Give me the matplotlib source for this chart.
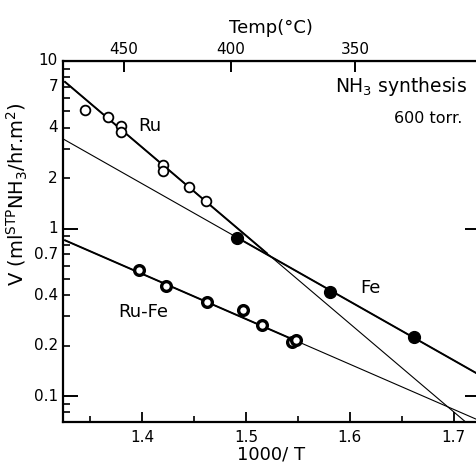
import numpy as np
import matplotlib
matplotlib.use('Agg')
import matplotlib.pyplot as plt
from matplotlib.ticker import LogLocator, FixedLocator, NullFormatter

plt.rcParams['font.family'] = 'DejaVu Sans'
plt.rcParams['mathtext.default'] = 'regular'

# data (x = 1000/T, y = V)
ru_x = [1.345, 1.367, 1.380, 1.380, 1.420, 1.420, 1.445, 1.462]
ru_v = [5.1, 4.64, 4.1, 3.78, 2.40, 2.21, 1.78, 1.45]

fe_x = [1.491, 1.581, 1.662]
fe_v = [0.88, 0.42, 0.224]

rufe_x = [1.397, 1.423, 1.463, 1.497, 1.515, 1.544, 1.548]
rufe_v = [0.562, 0.452, 0.363, 0.325, 0.265, 0.21, 0.215]

# fitted lines: end points and the range drawn thick
ru_fit_x = [1.326, 1.72]
ru_fit_v = [7.5, 0.063]
ru_thick = (1.326, 1.52)

fe_fit_x = [1.324, 1.73]
fe_fit_v = [3.43, 0.128]
fe_thick = (1.49, 1.73)

rufe_fit_x = [1.326, 1.73]
rufe_fit_v = [0.85, 0.069]
rufe_thick = (1.326, 1.55)

y_ticks = [0.1, 0.2, 0.4, 0.7, 1, 2, 4, 7, 10]
y_labels = ['0.1', '0.2', '0.4', '0.7', '1', '2', '4', '7', '10']
temp_ticks = [450, 400, 350]


def fit_line(xs, vs, x0, x1):
    slope = (np.log10(vs[1]) - np.log10(vs[0])) / (xs[1] - xs[0])
    xx = np.array([x0, x1])
    return xx, 10 ** (np.log10(vs[0]) + slope * (xx - xs[0]))


fig = plt.figure(figsize=(4.77, 4.62), dpi=100)
ax = fig.add_axes([0.132, 0.0866, 0.874, 0.7814])

for xs, vs, thick in [(ru_fit_x, ru_fit_v, ru_thick),
                      (fe_fit_x, fe_fit_v, fe_thick),
                      (rufe_fit_x, rufe_fit_v, rufe_thick)]:
    lx, lv = fit_line(xs, vs, xs[0], xs[1])
    ax.plot(lx, lv, color='black', lw=0.8)
    tx, tv = fit_line(xs, vs, thick[0], thick[1])
    ax.plot(tx, tv, color='black', lw=1.4)

ax.plot(ru_x, ru_v, 'o', ms=7, mfc='white', mec='black', mew=1.3)
ax.plot(fe_x, fe_v, 'o', ms=8.5, color='black')
ax.plot(rufe_x, rufe_v, 'o', ms=7, mfc='white', mec='black', mew=2.4)

ax.set_yscale('log')
ax.set_xlim(1.324, 1.725)
ax.set_ylim(0.07, 10)

ax.yaxis.set_major_locator(FixedLocator([0.1, 1, 10]))
ax.yaxis.set_major_formatter(NullFormatter())
ax.yaxis.set_minor_locator(LogLocator(base=10, subs=np.arange(2, 10)))
ax.yaxis.set_minor_formatter(NullFormatter())
for v, lab in zip(y_ticks, y_labels):
    ax.text(-0.012, v, lab, transform=ax.get_yaxis_transform(),
            ha='right', va='center', fontsize=11)

ax.set_xticks([1.4, 1.5, 1.6, 1.7])
ax.set_xticklabels(['1.4', '1.5', '1.6', '1.7'])
ax.set_xticks([1.35, 1.45, 1.55, 1.65], minor=True)

ax.tick_params(axis='y', which='major', direction='in', length=11, width=1.4,
               left=True, right=True)
ax.tick_params(axis='y', which='minor', direction='in', length=5, width=1.2,
               left=True, right=False)
ax.tick_params(axis='x', which='major', direction='in', length=7, width=1.3,
               labelsize=11, pad=6, top=False)
ax.tick_params(axis='x', which='minor', direction='in', length=4, width=1.2, top=False)

for s in ['left', 'bottom', 'top', 'right']:
    ax.spines[s].set_linewidth(1.6)

top = ax.secondary_xaxis('top', functions=(lambda x: 1000.0 / x - 273.15,
                                           lambda t: 1000.0 / (t + 273.15)))
top.set_xticks(temp_ticks)
top.set_xticklabels([str(t) for t in temp_ticks])
top.tick_params(direction='in', length=8, width=1.4, labelsize=11, pad=3)
top.set_xlabel('Temp(°C)', fontsize=13, labelpad=6)

ax.set_xlabel('1000/ T', fontsize=13, labelpad=0)
ax.set_ylabel(r'V (ml$^{STP}$NH$_3$/hr.m$^2$)', fontsize=14)
ax.yaxis.set_label_coords(-0.08, 0.63)

ax.text(1.408, 4.1, 'Ru', fontsize=13, ha='center', va='center')
ax.text(1.62, 0.444, 'Fe', fontsize=13, ha='center', va='center')
ax.text(1.401, 0.319, 'Ru-Fe', fontsize=13, ha='center', va='center')
ax.text(0.969, 0.928, r'NH$_3$ synthesis', transform=ax.transAxes,
        fontsize=13.5, ha='right', va='center')
ax.text(0.957, 0.842, '600 torr.', transform=ax.transAxes,
        fontsize=11.5, ha='right', va='center')

fig.savefig('out.png', dpi=100)
